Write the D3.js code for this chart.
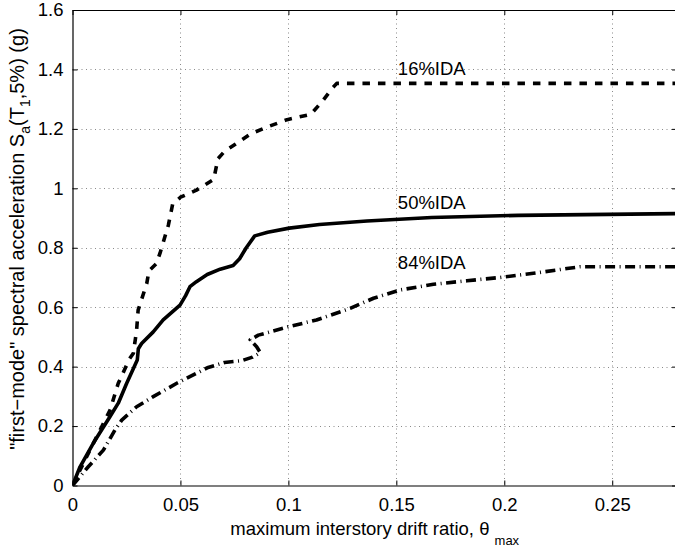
<!DOCTYPE html>
<html>
<head>
<meta charset="utf-8">
<script src="https://cdn.jsdelivr.net/npm/d3@7"></script>
<style>
  html, body { margin: 0; padding: 0; background: #fff; }
  svg { display: block; }
  text { font-family: "Liberation Sans", Arial, Helvetica, sans-serif; fill: #000; }
</style>
</head>
<body>
<svg id="chart" width="675" height="552"></svg>
<script>
// ---- data ----
const xTicks = [0, 0.05, 0.1, 0.15, 0.2, 0.25];
const xTickLabels = ["0", "0.05", "0.1", "0.15", "0.2", "0.25"];
const yTicks = [0, 0.2, 0.4, 0.6, 0.8, 1.0, 1.2, 1.4, 1.6];
const yTickLabels = ["0", "0.2", "0.4", "0.6", "0.8", "1", "1.2", "1.4", "1.6"];

const ida16_x = [0, 0.0058, 0.0112, 0.0174, 0.0212, 0.0264, 0.0282, 0.0297, 0.0304, 0.0344, 0.0354, 0.0388, 0.0405, 0.0444, 0.0464, 0.05, 0.0574, 0.0654, 0.0674, 0.0704, 0.0754, 0.0824, 0.0904, 0.0994, 0.1104, 0.1154, 0.1204, 0.1224, 0.28];
const ida16_y = [0, 0.086, 0.164, 0.254, 0.344, 0.426, 0.445, 0.523, 0.59, 0.68, 0.722, 0.746, 0.781, 0.876, 0.947, 0.97, 0.994, 1.03, 1.10, 1.124, 1.148, 1.183, 1.207, 1.231, 1.249, 1.29, 1.337, 1.353, 1.353];

const ida50_x = [0, 0.0035, 0.0096, 0.0174, 0.0212, 0.0251, 0.0300, 0.0305, 0.0320, 0.0374, 0.042, 0.0498, 0.0524, 0.0544, 0.0574, 0.0624, 0.0684, 0.0744, 0.0774, 0.0804, 0.0844, 0.0904, 0.1004, 0.1144, 0.1364, 0.1664, 0.2064, 0.28];
const ida50_y = [0, 0.063, 0.142, 0.232, 0.277, 0.344, 0.422, 0.46, 0.478, 0.517, 0.557, 0.607, 0.639, 0.669, 0.686, 0.71, 0.728, 0.740, 0.763, 0.799, 0.84, 0.852, 0.866, 0.878, 0.89, 0.902, 0.909, 0.915];

const ida84_x = [0, 0.0073, 0.0143, 0.0197, 0.0228, 0.0297, 0.0374, 0.0483, 0.0575, 0.0624, 0.0704, 0.0784, 0.0834, 0.087, 0.0853, 0.0823, 0.0861, 0.1, 0.113, 0.1286, 0.1394, 0.1518, 0.1672, 0.1827, 0.198, 0.2135, 0.229, 0.235, 0.28];
const ida84_y = [0, 0.063, 0.119, 0.187, 0.22, 0.265, 0.299, 0.344, 0.378, 0.396, 0.414, 0.42, 0.432, 0.447, 0.467, 0.49, 0.506, 0.534, 0.557, 0.596, 0.63, 0.658, 0.677, 0.689, 0.70, 0.714, 0.730, 0.736, 0.736];

const seriesNames = ["16%IDA", "50%IDA", "84%IDA"];
const labelPos_x = [0.1507, 0.1507, 0.1507];
const labelPos_y = [1.38, 0.93, 0.73];

// ---- layout ----
const svg = d3.select("#chart");
const L = 72.5, T = 10, R = 677, B = 485.5;
const x = d3.scaleLinear().domain([0, 0.28]).range([L, R]);
const y = d3.scaleLinear().domain([0, 1.6]).range([B, T]);

svg.append("defs").append("clipPath").attr("id", "clip")
  .append("rect").attr("x", L).attr("y", T).attr("width", R - L).attr("height", B - T);

// grid
const grid = svg.append("g").attr("stroke", "#8a8a8a").attr("stroke-width", 1).attr("stroke-dasharray", "1,3.5");
grid.selectAll("line.gx").data(xTicks.filter(d => d > 0)).join("line")
  .attr("x1", d => Math.round(x(d)) + 0.5).attr("x2", d => Math.round(x(d)) + 0.5)
  .attr("y1", T).attr("y2", B);
grid.selectAll("line.gy").data(yTicks.filter(d => d > 0 && d < 1.6)).join("line")
  .attr("y1", d => Math.round(y(d)) + 0.5).attr("y2", d => Math.round(y(d)) + 0.5)
  .attr("x1", L).attr("x2", R);

// axes (MATLAB-style, inward ticks, box)
const tickLen = 5;
const xAxisB = d3.axisBottom(x).tickValues(xTicks).tickFormat((d, i) => xTickLabels[i]).tickSizeInner(-tickLen).tickSizeOuter(0).tickPadding(12);
const xAxisT = d3.axisTop(x).tickValues(xTicks).tickFormat("").tickSizeInner(-tickLen).tickSizeOuter(0);
const yAxisL = d3.axisLeft(y).tickValues(yTicks).tickFormat((d, i) => yTickLabels[i]).tickSizeInner(-tickLen).tickSizeOuter(0).tickPadding(9);
const yAxisR = d3.axisRight(y).tickValues(yTicks).tickFormat("").tickSizeInner(-tickLen).tickSizeOuter(0);

function style(g) {
  g.selectAll("path.domain").attr("stroke", "#000").attr("stroke-width", 1.2);
  g.selectAll(".tick line").attr("stroke", "#000").attr("stroke-width", 1);
  g.selectAll(".tick text").attr("font-size", 18.5).attr("fill", "#000")
    .attr("font-family", '"Liberation Sans", Arial, Helvetica, sans-serif');
}
svg.append("g").attr("transform", `translate(0,${B})`).call(xAxisB).call(style);
svg.append("g").attr("transform", `translate(0,${T})`).call(xAxisT).call(style);
svg.append("g").attr("transform", `translate(${L},0)`).call(yAxisL).call(style);
svg.append("g").attr("transform", `translate(${R},0)`).call(yAxisR).call(style);

// curves
const line = d3.line().x(d => x(d[0])).y(d => y(d[1]));
const curves = [
  { xs: ida16_x, ys: ida16_y, dash: "7.5,8" },
  { xs: ida50_x, ys: ida50_y, dash: null },
  { xs: ida84_x, ys: ida84_y, dash: "10,4.5,1,4.5" }
];
const cg = svg.append("g").attr("clip-path", "url(#clip)");
curves.forEach(c => {
  const pts = c.xs.map((v, i) => [v, c.ys[i]]);
  cg.append("path").datum(pts).attr("d", line)
    .attr("fill", "none").attr("stroke", "#000").attr("stroke-width", 3.6)
    .attr("stroke-linejoin", "round")
    .attr("stroke-dasharray", c.dash);
});

// series labels
svg.selectAll("text.lab").data(seriesNames).join("text")
  .attr("class", "lab")
  .attr("x", (d, i) => x(labelPos_x[i]))
  .attr("y", (d, i) => y(labelPos_y[i]))
  .attr("font-size", 18.5)
  .text(d => d);

// x label
const xl = svg.append("text").attr("x", (L + R) / 2).attr("y", 535).attr("text-anchor", "middle").attr("font-size", 18.5);
xl.append("tspan").text("maximum interstory drift ratio, θ ");
xl.append("tspan").attr("font-size", 13).attr("dy", 10).text("max");

// y label
const yl = svg.append("text").attr("transform", "translate(24,239) rotate(-90)").attr("text-anchor", "middle").attr("font-size", 20);
yl.append("tspan").text("\"first−mode\" spectral acceleration S");
yl.append("tspan").attr("font-size", 14).attr("dy", 6).text("a");
yl.append("tspan").attr("dy", -6).text("(T");
yl.append("tspan").attr("font-size", 14).attr("dy", 6).text("1");
yl.append("tspan").attr("dy", -6).text(",5%) (g)");
</script>
</body>
</html>
